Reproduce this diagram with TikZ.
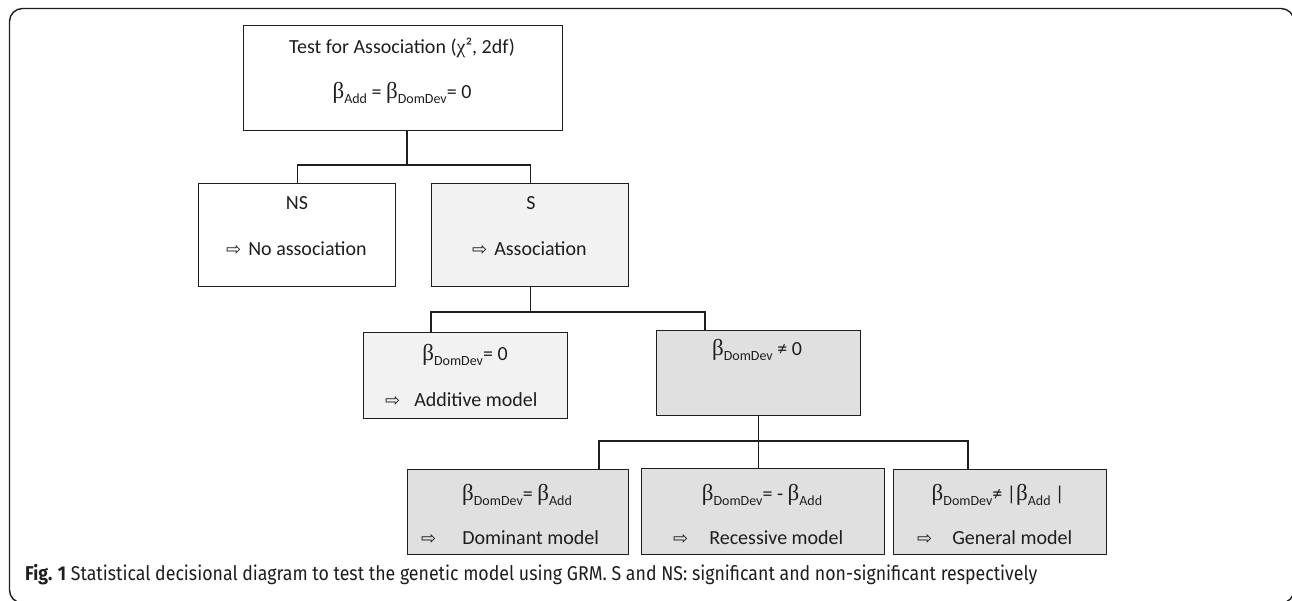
\documentclass[tikz,border=0pt]{standalone}
\usepackage{fontspec}
\usepackage{graphicx}
\setmainfont{Carlito}
\newfontfamily\grk{Liberation Serif}
\newfontfamily\symf{DejaVu Sans}
\newfontfamily\capf{Fira Sans}
\definecolor{lightfill}{HTML}{F2F2F2}
\definecolor{midfill}{HTML}{E0E0E0}
\definecolor{ink}{HTML}{1E1E1E}
\newcommand\bt[1]{{\grk\fontsize{23}{23}\selectfont β}\raisebox{-4.5pt}{\fontsize{14}{14}\selectfont #1}}
\newcommand\arr{{\symf\fontsize{18}{18}\selectfont ⇨}}
\begin{document}
\begin{tikzpicture}[x=1pt,y=-1pt,
  box/.style={draw=ink,line width=1.4pt,anchor=north west,inner sep=0pt},
  txt/.style={font=\fontsize{20}{24}\selectfont,text=ink,inner sep=0pt},
  conn/.style={draw=ink,line width=1.3pt}]
\useasboundingbox (0,0) rectangle (1292,601);
\begin{scope}
\clip (0,0) rectangle (1292,601);
\draw[ink,line width=1.4pt,rounded corners=13pt] (9.5,8.5) rectangle (1294,603);
\end{scope}
% boxes
\node[box,minimum width=319pt,minimum height=105pt] (top) at (243,25) {};
\node[box,minimum width=197pt,minimum height=103pt] (ns) at (198,183) {};
\node[box,fill=lightfill,minimum width=197pt,minimum height=103pt] (s) at (431,183) {};
\node[box,fill=lightfill,minimum width=204pt,minimum height=86pt] (add) at (363,332) {};
\node[box,fill=midfill,minimum width=204pt,minimum height=85pt] (nz) at (656,330) {};
\node[box,fill=midfill,minimum width=221pt,minimum height=85pt] (dom) at (407,469) {};
\node[box,fill=midfill,minimum width=243pt,minimum height=86pt] (rec) at (641,468) {};
\node[box,fill=midfill,minimum width=213pt,minimum height=85pt] (gen) at (893,469) {};
% texts
\node[txt] (topa) at (402,48) {Test for Association ({\grk χ}², 2df)};
\node[txt] (topb) at (402,93) {\bt{Add} = \bt{DomDev}= 0};
\node[txt] (nsa) at (297,203) {NS};
\node[txt,anchor=west] (nsb) at (226,249) {\arr\hspace{7pt}No association};
\node[txt] (sa) at (531,203) {S};
\node[txt,anchor=west] (sb) at (472,249) {\arr\hspace{7pt}Association};
\node[txt] (adda) at (465,355) {\bt{DomDev}= 0};
\node[txt,anchor=west] (addb) at (385,400) {\arr\hspace{14pt}Additive model};
\node[txt] (nza) at (757,350) {\bt{DomDev} ≠ 0};
\node[txt] (doma) at (517,495) {\bt{DomDev}= \bt{Add}};
\node[txt,anchor=west] (domb) at (421,538) {\arr\hspace{26pt}Dominant model};
\node[txt] (reca) at (762,495) {\bt{DomDev}= - \bt{Add}};
\node[txt,anchor=west] (recb) at (673,538) {\arr\hspace{21pt}Recessive model};
\node[txt] (gena) at (998,495) {\bt{DomDev}≠ |\bt{Add} |};
\node[txt,anchor=west] (genb) at (917,538) {\arr\hspace{20pt}General model};
% connectors
\coordinate (j1) at (407,165);
\draw[conn] (top.south -| j1) -- (j1);
\draw[conn] (ns.north) |- (j1) -| (s.north);
\coordinate (k1) at (431,312);
\coordinate (k2) at (705,312);
\draw[conn] (s.south) -- (s.south |- k1);
\draw[conn] (add.north -| k1) |- (k2) -- (k2 |- nz.north);
\coordinate (m1) at (599,441);
\coordinate (m2) at (968,441);
\draw[conn] (nz.south) -- (rec.north -| nz.south);
\draw[conn] (dom.north -| m1) |- (m2) -- (m2 |- gen.north);
% caption
\node[anchor=west,inner sep=0pt,text=ink,font=\capf\fontsize{20}{20}\selectfont] (cap) at (25,575)
  {\resizebox{1012pt}{\height}{\textbf{Fig. 1} Statistical decisional diagram to test the genetic model using GRM. S and NS: significant and non-significant respectively}};
\end{tikzpicture}
\end{document}
